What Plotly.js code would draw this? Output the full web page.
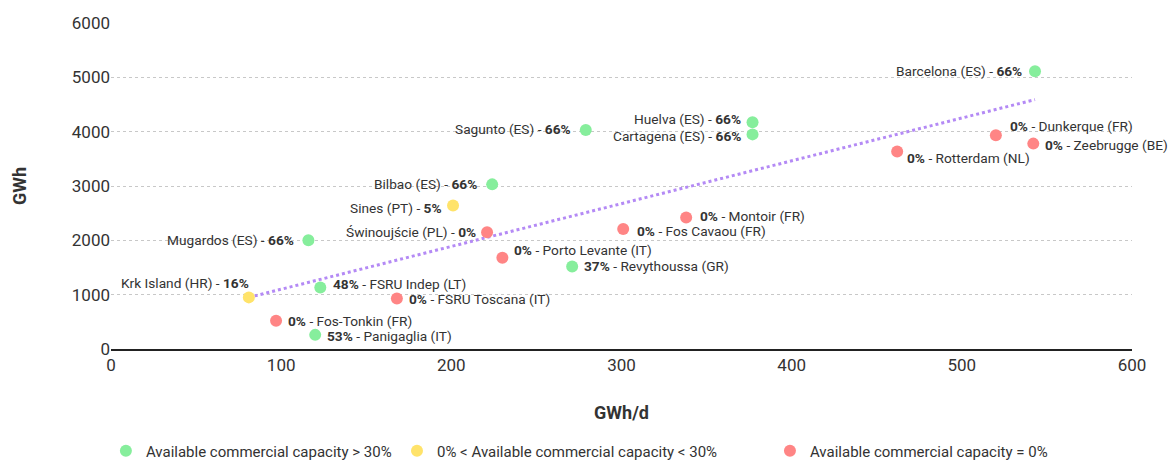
<!DOCTYPE html>
<html><head><meta charset="utf-8">
<script src="https://cdn.plot.ly/plotly-3.0.1.min.js"></script>
<style>html,body{margin:0;padding:0;background:#fff}#chart{width:1169px;height:460px}</style>
</head><body><div id="chart"></div>
<script>
// Terminal names
const terminals = ["Barcelona (ES)","Huelva (ES)","Cartagena (ES)","Sagunto (ES)","Bilbao (ES)","Sines (PT)","Świnoujście (PL)","Mugardos (ES)","Krk Island (HR)","FSRU Indep (LT)","Fos-Tonkin (FR)","Panigaglia (IT)","FSRU Toscana (IT)","Porto Levante (IT)","Revythoussa (GR)","Fos Cavaou (FR)","Montoir (FR)","Rotterdam (NL)","Dunkerque (FR)","Zeebrugge (BE)"];
// Send-out capacity, GWh/d
const sendOut = [543,377,377,279,224,201,221,116,81,123,97,120,168,230,271,301,338,462,520,542];
// Storage, GWh
const storage = [5110,4175,3950,4030,3030,2640,2150,2000,950,1130,520,260,930,1680,1520,2210,2420,3635,3935,3780];
// Available commercial capacity (%)
const available = [66,66,66,66,66,5,0,66,16,48,0,53,0,0,37,0,0,0,0,0];
// Legend labels
const legendNames = ["Available commercial capacity > 30%","0% < Available commercial capacity < 30%","Available commercial capacity = 0%"];
// Trend line end points
const trendX = [81, 543];
const trendY = [950, 4590];

// Label placement (style only): side and pixel offsets [dx, dy]
const labelSide = ["L","L","L","L","L","L","L","L","L","R","R","R","R","R","R","R","R","R","R","R"];
const labelShift = [[-12,0],[-11,3],[-11,-2],[-14,1],[-14,0],[-10,-2],[-10,0],[-13,0],[1,14],[12,4],[11,0],[11,-1],[11,-1],[11,8],[11,0],[13,-2],[13,2],[9,-6],[13,9],[11,-1]];

const FONT = "Roboto, 'Liberation Sans', Arial, sans-serif";
const groups = [
  {name:legendNames[0], legend:"legend",  color:"#86ee9c", test:v=>v>30},
  {name:legendNames[1], legend:"legend2", color:"#ffe36a", test:v=>v>0 && v<=30},
  {name:legendNames[2], legend:"legend3", color:"#ff8585", test:v=>v===0}
];

const traces = [{
  x: trendX, y: trendY, mode:"lines", type:"scatter", showlegend:false, hoverinfo:"skip",
  line:{color:"#b48af5", width:3, dash:"dot"}
}];
groups.forEach(g=>{
  const xs=[],ys=[];
  terminals.forEach((t,i)=>{
    if(!g.test(available[i])) return;
    xs.push(sendOut[i]); ys.push(storage[i]);
  });
  traces.push({x:xs,y:ys,mode:"markers",type:"scatter",name:g.name,legend:g.legend,cliponaxis:false,
    marker:{color:g.color,size:12}});
});

const annotations = terminals.map((t,i)=>{
  const left = labelSide[i]==="L";
  return {
    x: sendOut[i], y: storage[i], xref:"x", yref:"y", showarrow:false,
    text: left ? t+" - <b>"+available[i]+"%</b>" : "<b>"+available[i]+"%</b> - "+t,
    xanchor: left ? "right" : "left", yanchor:"middle", borderpad:0,
    xshift: labelShift[i][0], yshift: labelShift[i][1],
    font:{family:FONT,size:13.7,color:"#333"}
  };
});

const legendBase = {orientation:"h", xanchor:"left", y:-0.262, yanchor:"top", font:{size:15,color:"#333"}, bgcolor:"rgba(0,0,0,0)"};
const layout = {
  width:1169, height:460,
  margin:{l:111,r:37,t:23,b:111,autoexpand:false},
  paper_bgcolor:"#fff", plot_bgcolor:"#fff",
  font:{family:FONT, color:"#333"},
  xaxis:{range:[0,600], dtick:100, showgrid:false, zeroline:false, showline:true, linecolor:"#222", linewidth:1.5,
    ticks:"", tickfont:{size:17,color:"#333"}, automargin:false,
    title:{text:"<b>GWh/d</b>", font:{size:18,color:"#333"}, standoff:32}},
  yaxis:{range:[0,6000], dtick:1000, showgrid:true, gridcolor:"#c8c8c8", griddash:"dot", gridwidth:1,
    zeroline:false, showline:false, ticks:"", tickfont:{size:17,color:"#333"}, automargin:false,
    title:{text:"<b>GWh</b>", font:{size:18,color:"#333"}, standoff:40}},
  annotations: annotations,
  showlegend:true,
  legend:  Object.assign({}, legendBase, {x:-0.005}),
  legend2: Object.assign({}, legendBase, {x:0.2801}),
  legend3: Object.assign({}, legendBase, {x:0.6454})
};
Plotly.newPlot("chart", traces, layout, {displayModeBar:false});
</script></body></html>
